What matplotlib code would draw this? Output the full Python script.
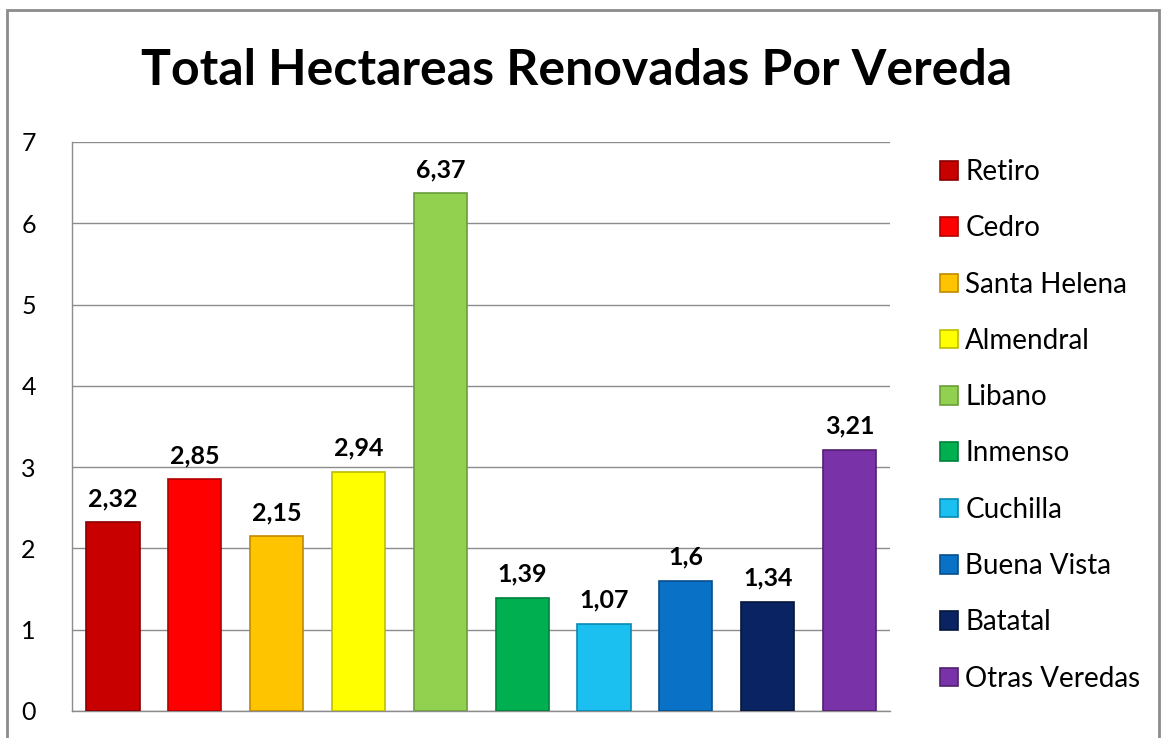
import matplotlib.pyplot as plt
from matplotlib.patches import Rectangle

veredas = ["Retiro", "Cedro", "Santa Helena", "Almendral", "Libano",
           "Inmenso", "Cuchilla", "Buena Vista", "Batatal", "Otras Veredas"]
hectareas = [2.32, 2.85, 2.15, 2.94, 6.37, 1.39, 1.07, 1.6, 1.34, 3.21]
etiquetas = ["2,32", "2,85", "2,15", "2,94", "6,37", "1,39", "1,07", "1,6", "1,34", "3,21"]
colores = ["#C80000", "#FF0000", "#FFC400", "#FFFF00", "#92D050",
           "#00B050", "#1BBFF0", "#0A72C6", "#0A2463", "#7A32A8"]
bordes = ["#8A0000", "#B00000", "#C08A00", "#BDBD00", "#6A9E3A",
          "#00803A", "#0A8AB0", "#074F8A", "#051638", "#52206F"]

plt.rcParams["font.family"] = ["Lato", "DejaVu Sans"]

fig = plt.figure(figsize=(11.61, 7.38), dpi=100)
fig.patches.append(Rectangle((0.006, -0.01), 0.992, 0.996, transform=fig.transFigure,
                             fill=False, edgecolor="#8C8C8C", linewidth=2))

ax = fig.add_axes([0.062, 0.0366, 0.705, 0.771])
x = range(len(veredas))
bars = ax.bar(x, hectareas, width=0.65, color=colores, edgecolor=bordes,
              linewidth=1.2, zorder=3)
for b, lab in zip(bars, etiquetas):
    ax.text(b.get_x() + b.get_width() / 2, b.get_height() + 0.15, lab,
            ha="center", va="bottom", fontsize=18, fontweight="bold", color="black")

ax.set_xlim(-0.5, len(veredas) - 0.5)
ax.set_ylim(0, 7)
ax.set_yticks(range(8))
ax.set_xticks([])
ax.yaxis.grid(True, color="#8C8C8C", linewidth=1)
ax.set_axisbelow(True)
ax.spines[["top", "right"]].set_visible(False)
for s in ["left", "bottom"]:
    ax.spines[s].set_color("#8C8C8C")
    ax.spines[s].set_linewidth(1)
ax.tick_params(axis="y", length=0, pad=26, labelsize=18)

ax.legend(bars, veredas, loc="upper left", bbox_to_anchor=(1.061, 0.97),
          frameon=False, fontsize=20, handlelength=0.65, handleheight=0.65,
          handletextpad=0.25, labelspacing=1.09, borderaxespad=0, borderpad=0)

fig.text(0.497, 0.905, "Total Hectareas Renovadas Por Vereda", ha="center",
         va="center", fontsize=36, fontweight="bold")

fig.savefig("out.png", dpi=100)
